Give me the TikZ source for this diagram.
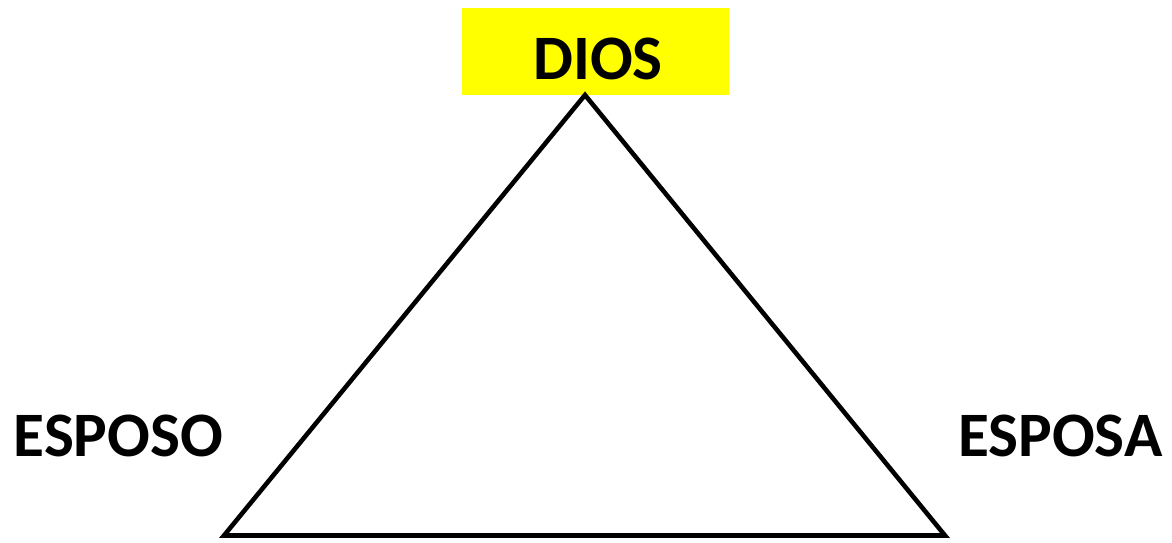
\documentclass[tikz,border=0pt]{standalone}
\usepackage{fontspec}
\setmainfont{Carlito}
\usetikzlibrary{positioning}
\definecolor{godbg}{RGB}{255,255,0}
\tikzset{
  label/.style   ={font=\fontsize{18}{21}\selectfont\bfseries, inner sep=0pt},
  godbox/.style  ={fill=godbg, inner sep=0pt},
  sideline/.style={draw=black, line width=1.3pt, line join=miter},
}

\begin{document}
\begin{tikzpicture}[x=0.01cm, y=-0.01cm]
\useasboundingbox (0,0) rectangle (1172,542);

% --- yellow box with DIOS ---
\path[godbox] (462,8) rectangle (729,95);
\node[label, anchor=base] (dios) at (598,79) {DIOS};

% --- triangle corners ---
\coordinate (apex)  at (585,95);
\coordinate (left)  at (224,535.5);
\coordinate (right) at (945,535.5);
\draw[sideline] (apex) -- (left) -- (right) -- cycle;

% --- side labels ---
\node[label, anchor=base west] (esposo) at (13,456) {ESPOSO};
\node[label, anchor=base east] (esposa) at (1163,456) {ESPOSA};

\end{tikzpicture}
\end{document}
